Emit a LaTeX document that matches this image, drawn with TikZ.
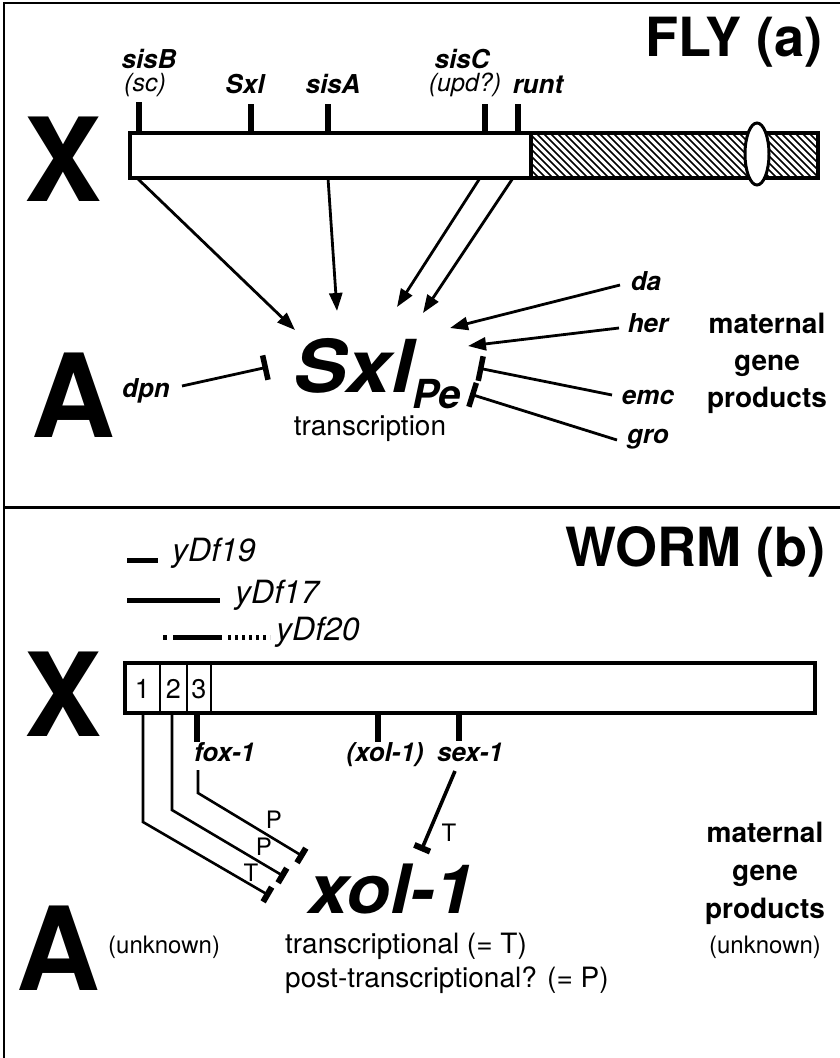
\documentclass[tikz,border=0pt]{standalone}
\usepackage{fontspec}
\usepackage{graphicx}
\setmainfont{TeX Gyre Heros}
\usetikzlibrary{arrows.meta,shapes.geometric}
\newcommand{\fs}[1]{\fontsize{#1}{#1}\selectfont}
\begin{document}
\begin{tikzpicture}[x=1pt,y=-1pt,
  every node/.style={inner sep=0pt},
  big/.style={font=\fs{116}\bfseries},
  title/.style={font=\fs{54}\bfseries},
  gene/.style={font=\fs{26}\bfseries\itshape, anchor=base},
  geneit/.style={font=\fs{25}\itshape},
  body/.style={font=\fs{28}},
  mat/.style={font=\fs{28}\bfseries, anchor=base},
  lbl/.style={font=\fs{24}},
  dfl/.style={font=\fs{32}\itshape, anchor=base west},
  chrom/.style={draw, line width=4pt, fill=white},
  tick/.style={line width=5.5pt},
  act/.style={line width=2.8pt, -{Triangle[length=18pt,width=13pt]}},
  inh/.style={line width=2.8pt, -{Bar[width=25pt,line width=5.5pt]}},
  inhw/.style={line width=2.6pt, -{Bar[width=17pt,line width=6pt]}},
  del/.style={line width=5pt}
]
\useasboundingbox (0,0) rectangle (840,1058);
% frame
\draw[line width=2.5pt] (4,1058) -- (4,3) -- (840,3);
\draw[line width=3pt] (4,507) -- (840,507);

% ================= FLY =================
\node[title, anchor=base east] (fly) at (823,56) {FLY (a)};
\node[big] (X1) at (63,159) {X};
\node[big] (A1) at (73,395) {A};

% hatched part
\begin{scope}
  \clip (531,133) rectangle (818,178);
  \foreach \i in {480,487,...,822} \draw[line width=1.7pt] (\i,133) -- (\i+45,178);
\end{scope}
\draw[line width=4pt] (531,133) rectangle (818,178);
\draw[chrom] (130,133) rectangle (531,178);
\node[draw, line width=3pt, fill=white, ellipse, minimum width=24pt, minimum height=62pt] (cen) at (757,154) {};

% ticks
\draw[tick] (139,133) -- (139,102);
\draw[tick] (251,133) -- (251,104);
\draw[tick] (328,133) -- (328,104);
\draw[tick] (485,133) -- (485,104);
\draw[tick] (518,133) -- (518,104);

% gene labels
\node[gene] (sisB) at (149,68) {sisB};
\node[geneit] (sc) at (145,85) {(sc)};
\node[gene] (sxlg) at (245,93) {Sxl};
\node[gene] (sisA) at (333,93) {sisA};
\node[gene] (sisC) at (462,68) {sisC};
\node[geneit] (upd) at (465,85) {(upd?)};
\node[gene] (runt) at (538,93) {runt};

% target
\node[font=\fs{73}\bfseries\itshape, anchor=base west] (Sxl) at (293,392) {\scalebox{1.1}[1]{Sxl}};
\node[font=\fs{40}\bfseries\itshape, anchor=base west] (Pe) at (412,408) {Pe};
\node[body, anchor=base] (trs) at (370,435) {transcription};

% arrows from X
\coordinate (b1) at (137,178); \coordinate (t1) at (295,330);
\coordinate (b2) at (328,178); \coordinate (t2) at (337,311);
\coordinate (b3) at (480,178); \coordinate (t3) at (397,307);
\coordinate (b4) at (513,178); \coordinate (t4) at (423,313);
\draw[act] (b1) -- (t1);
\draw[act] (b2) -- (t2);
\draw[act] (b3) -- (t3);
\draw[act] (b4) -- (t4);

% maternal
\node[gene] (da) at (646,290) {da};
\node[gene] (her) at (648,332) {her};
\node[gene] (emc) at (648,404) {emc};
\node[gene] (gro) at (648,443) {gro};
\coordinate (da0) at (620,285); \coordinate (da1) at (450,328);
\coordinate (her0) at (619,328); \coordinate (her1) at (468,346);
\coordinate (emc0) at (612,395); \coordinate (emc1) at (478,368);
\coordinate (gro0) at (617,440); \coordinate (gro1) at (470,394);
\draw[act] (da0) -- (da1);
\draw[act] (her0) -- (her1);
\draw[inh] (emc0) -- (emc1);
\draw[inh] (gro0) -- (gro1);
\node[gene] (dpn) at (146,397) {dpn};
\coordinate (dpn0) at (182,386); \coordinate (dpn1) at (268,367);
\draw[inh] (dpn0) -- (dpn1);

\node[mat] (m1) at (767,333) {maternal};
\node[mat] (m2) at (767,370) {gene};
\node[mat] (m3) at (767,407) {products};

% ================= WORM =================
\node[title, anchor=base east] (worm) at (826,566) {WORM (b)};
\node[big] (X2) at (63,694) {X};
\node[big] (A2) at (58,948) {A};

% deficiencies
\draw[del] (127,560) -- (158,560);
\node[dfl] (d19) at (172,561) {yDf19};
\draw[del] (127,600) -- (220,600);
\node[dfl] (d17) at (235,603) {yDf17};
\draw[del] (163,637) -- (167,637);
\draw[del] (173,637) -- (222,637);
\draw[del, dash pattern=on 3pt off 4pt] (228,637) -- (270,637);
\node[dfl] (d20) at (276,640) {yDf20};

% chromosome
\draw[chrom] (125,663) rectangle (815,713);
\draw[line width=1.8pt] (160,663) -- (160,713);
\draw[line width=1.8pt] (187,663) -- (187,713);
\draw[line width=1.8pt] (211,663) -- (211,713);
\node[font=\fs{27}] (n1) at (142.5,689) {1};
\node[font=\fs{27}] (n2) at (173.5,689) {2};
\node[font=\fs{27}] (n3) at (199,689) {3};

\draw[tick] (197,713) -- (197,742);
\draw[tick] (378,713) -- (378,742);
\draw[tick] (459,713) -- (459,741);
\node[gene, anchor=base west] (fox) at (194,761) {fox-1};
\node[gene] (xolg) at (385,761) {(xol-1)};
\node[gene, anchor=base west] (sex) at (437,761) {sex-1};

% regulation lines
\coordinate (r1a) at (143,713); \coordinate (r1b) at (143,822); \coordinate (r1c) at (270,896);
\coordinate (r2a) at (172,713); \coordinate (r2b) at (172,810); \coordinate (r2c) at (285,877);
\coordinate (r3a) at (198,770); \coordinate (r3b) at (198,793); \coordinate (r3c) at (304,857);
\coordinate (s0) at (455,771); \coordinate (s1) at (421,851);
\draw[inhw] (r1a) -- (r1b) -- (r1c);
\draw[inhw] (r2a) -- (r2b) -- (r2c);
\draw[inhw] (r3a) -- (r3b) -- (r3c);
\draw[inhw, line width=3.6pt] (s0) -- (s1);
\node[lbl] (P1) at (274,820) {P};
\node[lbl] (P2) at (264,847) {P};
\node[lbl] (T1) at (251,873) {T};
\node[lbl] (T2) at (449,833) {T};

\node[font=\fs{68}\bfseries\itshape, anchor=base west] (xol) at (308,913) {\scalebox{1.06}[1]{xol-1}};
\node[body, anchor=base west] (tr1) at (285,953) {transcriptional (= T)};
\node[body, anchor=base west] (tr2) at (285,987) {post-transcriptional? (= P)};
\node[font=\fs{24}, anchor=base west] (unk1) at (108,953) {(unknown)};

\node[mat] (w1) at (765,842) {maternal};
\node[mat] (w2) at (765,880) {gene};
\node[mat] (w3) at (765,918) {products};
\node[font=\fs{24}, anchor=base] (unk2) at (765,953) {(unknown)};
\end{tikzpicture}
\end{document}
